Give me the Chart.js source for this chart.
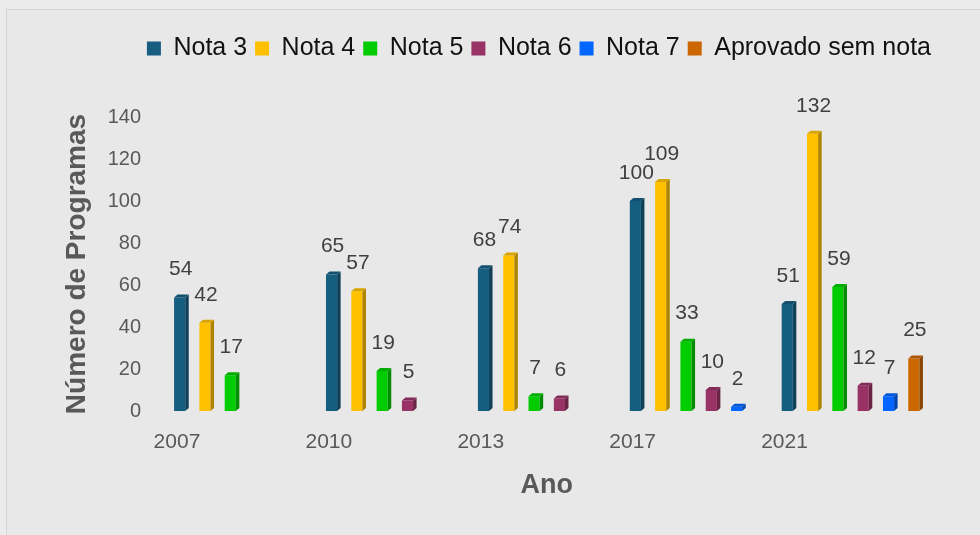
<!DOCTYPE html>
<html>
<head>
<meta charset="utf-8">
<script src="https://cdn.jsdelivr.net/npm/chart.js@4/dist/chart.umd.min.js"></script>
<style>
  html, body { margin: 0; padding: 0; background: #ebebeb; width: 980px; height: 535px; overflow: hidden; }
  #frame { position: absolute; left: 6px; top: 9px; width: 990px; height: 560px; background: #e8e8e8; border: 1px solid #d5d5d5; }
  #wrap { position: absolute; left: 0; top: 0; width: 980px; height: 535px; }
</style>
</head>
<body>
<div id="frame"></div>
<div id="wrap"><canvas id="c" width="980" height="535"></canvas></div>
<script>
const categories = ['2007', '2010', '2013', '2017', '2021'];
const seriesNames = ['Nota 3', 'Nota 4', 'Nota 5', 'Nota 6', 'Nota 7', 'Aprovado sem nota'];
const nota3 = [54, 65, 68, 100, 51];
const nota4 = [42, 57, 74, 109, 132];
const nota5 = [17, 19, 7, 33, 59];
const nota6 = [null, 5, 6, 10, 12];
const nota7 = [null, null, null, 2, 7];
const aprovado = [null, null, null, null, 25];
const yTicks = [0, 20, 40, 60, 80, 100, 120, 140];
const colors = ['#165e80', '#ffc000', '#00cc00', '#993366', '#0066ff', '#cc6600'];

const seriesValues = [nota3, nota4, nota5, nota6, nota7, aprovado];

function shade(hex, f) {
  const n = parseInt(hex.slice(1), 16);
  let r = (n >> 16) & 255, g = (n >> 8) & 255, b = n & 255;
  if (f < 1) { r *= f; g *= f; b *= f; }
  else { r = r + (255 - r) * (f - 1); g = g + (255 - g) * (f - 1); b = b + (255 - b) * (f - 1); }
  return 'rgb(' + Math.round(r) + ',' + Math.round(g) + ',' + Math.round(b) + ')';
}

const bar3d = {
  id: 'bar3d',
  afterDatasetsDraw(chart) {
    const ctx = chart.ctx;
    const dx = 3.5, dy = 3;
    ctx.save();
    chart.data.datasets.forEach((ds, i) => {
      const meta = chart.getDatasetMeta(i);
      if (meta.hidden) return;
      meta.data.forEach((bar, j) => {
        const v = ds.data[j];
        if (v === null || v === undefined) return;
        const p = bar.getProps(['x', 'y', 'base', 'width'], true);
        const L = p.x - p.width / 2, R = p.x + p.width / 2;
        const col = colors[i];
        ctx.fillStyle = shade(col, 0.68);
        ctx.beginPath();
        ctx.moveTo(R, p.y);
        ctx.lineTo(R + dx, p.y - dy);
        ctx.lineTo(R + dx, p.base - dy);
        ctx.lineTo(R, p.base);
        ctx.closePath();
        ctx.fill();
        ctx.fillStyle = shade(col, 0.85);
        ctx.beginPath();
        ctx.moveTo(L, p.y);
        ctx.lineTo(L + dx, p.y - dy);
        ctx.lineTo(R + dx, p.y - dy);
        ctx.lineTo(R, p.y);
        ctx.closePath();
        ctx.fill();
        ctx.fillStyle = '#404040';
        ctx.font = '21px "Liberation Sans", Arial, sans-serif';
        ctx.textAlign = 'center';
        ctx.textBaseline = 'middle';
        ctx.fillText(String(v), p.x + 1, p.y - 28);
      });
    });
    ctx.restore();
  }
};

const datasets = seriesNames.map((name, i) => ({
  label: name,
  data: seriesValues[i],
  backgroundColor: colors[i],
  borderWidth: 0,
  categoryPercentage: 1.0,
  barPercentage: 0.44
}));

new Chart(document.getElementById('c'), {
  type: 'bar',
  data: { labels: categories, datasets: datasets },
  plugins: [bar3d],
  options: {
    responsive: false,
    animation: false,
    devicePixelRatio: 1,
    layout: { padding: { top: 28, left: 0, right: 41, bottom: 0 } },
    plugins: {
      tooltip: { enabled: false },
      legend: {
        position: 'top',
        fullSize: true,
        align: 'end',
        weight: 1000,
        labels: {
          boxWidth: 14,
          boxHeight: 14,
          padding: 8,
          color: '#111111',
          font: { family: '"Liberation Sans", Arial, sans-serif', size: 25 }
        }
      },
      subtitle: {
        display: true,
        text: '',
        weight: 500,
        position: 'top',
        font: { size: 1, lineHeight: 1 },
        padding: { top: 45, bottom: 0 }
      }
    },
    scales: {
      x: {
        type: 'category',
        grid: { display: false, drawTicks: false },
        border: { display: false },
        ticks: {
          color: '#595959',
          padding: 19,
          labelOffset: -66,
          maxRotation: 0,
          font: { family: '"Liberation Sans", Arial, sans-serif', size: 21 }
        },
        title: {
          display: true,
          text: 'Ano',
          color: '#595959',
          font: { family: '"Liberation Sans", Arial, sans-serif', size: 27, weight: 'bold' },
          padding: { top: 0, bottom: 33 }
        },
        afterFit(scale) { scale.height = 124; }
      },
      y: {
        min: 0,
        max: 140,
        grid: { display: false, drawTicks: false },
        border: { display: false },
        afterBuildTicks(scale) { scale.ticks = yTicks.map(v => ({ value: v })); },
        ticks: {
          color: '#595959',
          padding: 26,
          font: { family: '"Liberation Sans", Arial, sans-serif', size: 20 }
        },
        title: {
          display: true,
          text: 'Número de Programas',
          color: '#595959',
          font: { family: '"Liberation Sans", Arial, sans-serif', size: 28, weight: 'bold' },
          padding: { top: 60, bottom: 0 }
        },
        afterFit(scale) { scale.width = 167; }
      },
      yRight: {
        position: 'right',
        display: true,
        grid: { display: false, drawTicks: false },
        border: { display: false },
        ticks: { display: false },
        afterFit(scale) { scale.width = 12.5; }
      }
    }
  }
});
</script>
</body>
</html>
